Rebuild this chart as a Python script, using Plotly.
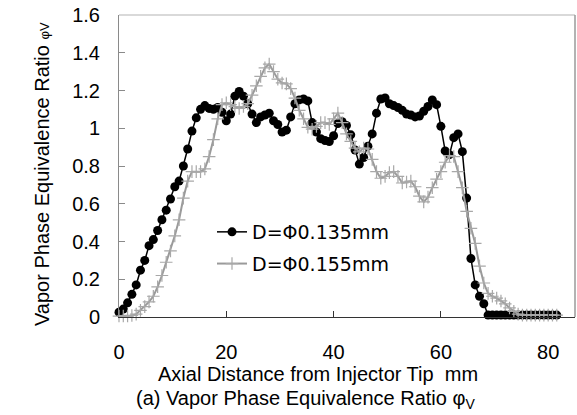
import plotly.graph_objects as go

# Axial distance (mm) of measurement points
x_mm = [0.0, 0.8, 1.6, 2.4, 3.2, 4.0, 4.8, 5.6, 6.4, 7.2, 8.0, 8.8, 9.6, 10.4, 11.2,
        12.0, 12.8, 13.6, 14.4, 15.2, 16.0, 16.8, 17.6, 18.4, 19.2, 20.0, 20.8, 21.6,
        22.4, 23.2, 24.0, 24.8, 25.6, 26.4, 27.2, 28.0, 28.8, 29.6, 30.4, 31.2, 32.0,
        32.8, 33.6, 34.4, 35.2, 36.0, 36.8, 37.6, 38.4, 39.2, 40.0, 40.8, 41.6, 42.4,
        43.2, 44.0, 44.8, 45.6, 46.4, 47.2, 48.0, 48.8, 49.6, 50.4, 51.2, 52.0, 52.8,
        53.6, 54.4, 55.2, 56.0, 56.8, 57.6, 58.4, 59.2, 60.0, 60.8, 61.6, 62.4, 63.2,
        64.0, 64.8, 65.6, 66.4, 67.2, 68.0, 68.8, 69.6, 70.4, 71.2, 72.0, 72.8, 73.6,
        74.4, 75.2, 76.0, 76.8, 77.6, 78.4, 79.2, 80.0, 80.8, 81.6]

# D = 0.135 mm (black)
phi_135 = [0.025, 0.042, 0.075, 0.12, 0.17, 0.248, 0.30, 0.378, 0.41, 0.458, 0.515,
           0.566, 0.625, 0.69, 0.72, 0.80, 0.89, 0.985, 1.055, 1.10, 1.12, 1.105, 1.10,
           1.11, 1.085, 1.04, 1.075, 1.17, 1.195, 1.17, 1.13, 1.075, 1.03, 1.06, 1.07,
           1.08, 1.04, 1.02, 0.98, 0.99, 1.06, 1.13, 1.15, 1.155, 1.145, 1.03, 0.98,
           0.945, 0.935, 0.93, 0.96, 1.025, 1.035, 1.015, 0.965, 0.885, 0.81, 0.845,
           0.905, 0.97, 1.08, 1.155, 1.16, 1.13, 1.12, 1.11, 1.095, 1.075, 1.07, 1.06,
           1.065, 1.09, 1.115, 1.15, 1.125, 1.01, 0.88, 0.86, 0.95, 0.97, 0.876, 0.63,
           0.31, 0.17, 0.11, 0.07, 0.01, 0.01, 0.01, 0.01, 0.01, 0.01, 0.01, 0.01, 0.01,
           0.01, 0.01, 0.01, 0.01, 0.01, 0.01, 0.01, 0.01]

# D = 0.155 mm (gray)
phi_155 = [0.005, 0.005, 0.005, 0.008, 0.015, 0.035, 0.055, 0.08, 0.11, 0.16, 0.22,
           0.29, 0.35, 0.43, 0.515, 0.63, 0.72, 0.77, 0.77, 0.77, 0.785, 0.85, 0.94,
           1.05, 1.125, 1.135, 1.125, 1.115, 1.105, 1.115, 1.13, 1.175, 1.225, 1.275,
           1.32, 1.34, 1.30, 1.26, 1.24, 1.235, 1.21, 1.16, 1.095, 1.05, 1.005, 0.995,
           1.01, 1.03, 1.03, 1.02, 1.05, 1.08, 1.03, 0.97, 0.93, 0.895, 0.875, 0.895,
           0.89, 0.835, 0.77, 0.735, 0.745, 0.765, 0.77, 0.745, 0.71, 0.715, 0.72, 0.69,
           0.64, 0.61, 0.635, 0.685, 0.73, 0.77, 0.82, 0.855, 0.85, 0.77, 0.685, 0.56,
           0.47, 0.39, 0.27, 0.18, 0.125, 0.11, 0.10, 0.085, 0.07, 0.048, 0.03, 0.015,
           0.01, 0.01, 0.01, 0.01, 0.01, 0.01, 0.01, 0.01, 0.01]

names = ["D=Φ0.135mm", "D=Φ0.155mm"]
x_ticks = [0, 20, 40, 60, 80]
y_ticks = [0, 0.2, 0.4, 0.6, 0.8, 1.0, 1.2, 1.4, 1.6]

FONT = "Arial, Liberation Sans, sans-serif"
LEG_FONT = "DejaVu Sans, sans-serif"

fig = go.Figure()
fig.add_trace(go.Scatter(
    x=x_mm, y=phi_135, name=names[0], mode="lines+markers",
    line=dict(color="#000000", width=1.5),
    marker=dict(symbol="circle", size=9, color="#000000"),
    cliponaxis=False, legendgroup="a"))
fig.add_trace(go.Scatter(
    x=x_mm, y=phi_155, name=names[1], mode="lines+markers",
    line=dict(color="#9a9a9a", width=2),
    marker=dict(symbol="cross-thin", size=9, color="#a8a8a8",
                line=dict(color="#a8a8a8", width=1.2)),
    cliponaxis=False, legendgroup="b"))

W, H = 577, 415
L, R, T, B = 119, 2, 15, 98
pw = W - L - R
ph = H - T - B

def px2paper_x(px):
    return (px - L) / pw

def px2paper_y(py):
    return (H - B - py) / ph

fig.update_layout(
    width=W, height=H,
    margin=dict(l=L, r=R, t=T, b=B, pad=0),
    paper_bgcolor="white", plot_bgcolor="white",
    font=dict(family=FONT, size=20, color="#000000"),
    showlegend=True,
    legend=dict(x=px2paper_x(212), y=px2paper_y(213), xanchor="left", yanchor="top",
                bgcolor="rgba(0,0,0,0)", font=dict(family=LEG_FONT, size=19),
                tracegroupgap=4, itemwidth=30),
    xaxis=dict(range=[0, 85], tickvals=x_ticks, ticks="inside", ticklen=6,
               tickcolor="#333333", showline=True, linecolor="#333333", linewidth=1,
               showgrid=False, zeroline=False, ticklabelstandoff=17,
               tickfont=dict(family=FONT, size=20)),
    yaxis=dict(range=[0, 1.6], tickvals=y_ticks, ticks="inside", ticklen=6,
               tickcolor="#8a8a8a", showline=True, linecolor="#8a8a8a", linewidth=1,
               showgrid=False, zeroline=False, ticklabelstandoff=14,
               tickfont=dict(family=FONT, size=20)),
    shapes=[
        dict(type="line", xref="paper", yref="paper", x0=0, x1=1, y0=1, y1=1,
             line=dict(color="#cccccc", width=1.5)),
        dict(type="line", xref="paper", yref="paper", x0=1, x1=1, y0=0, y1=1,
             line=dict(color="#9a9a9a", width=1.5)),
    ],
    annotations=[
        dict(text="Axial Distance from Injector Tip  mm", xref="paper", yref="paper",
             x=px2paper_x(156), y=px2paper_y(374), xanchor="left", yanchor="middle",
             showarrow=False, font=dict(family=FONT, size=20)),
        dict(text="(a) Vapor Phase Equivalence Ratio φ<sub>V</sub>", xref="paper",
             yref="paper", x=px2paper_x(134), y=px2paper_y(399), xanchor="left",
             yanchor="middle", showarrow=False, font=dict(family=FONT, size=20)),
        dict(text="Vapor Phase Equivalence Ratio <span style='font-size:13px'>φV</span>",
             xref="paper", yref="paper", x=px2paper_x(42), y=px2paper_y(174),
             xanchor="center", yanchor="middle", textangle=-90, showarrow=False,
             font=dict(family=FONT, size=20)),
    ],
)

fig.write_html("out.html")
